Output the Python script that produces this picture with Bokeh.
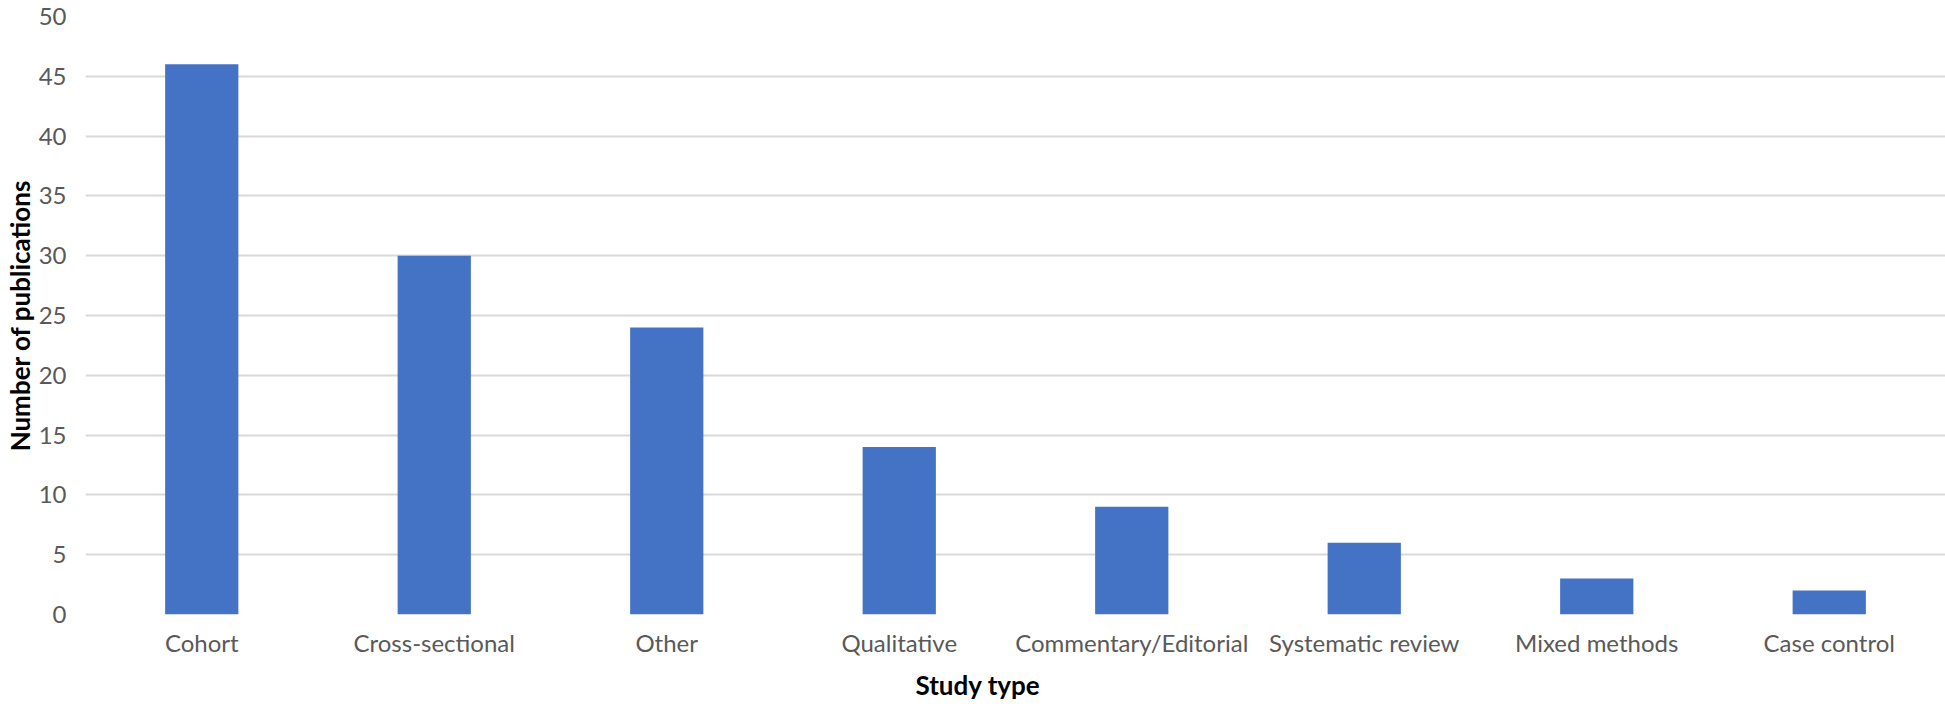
from bokeh.plotting import figure
from bokeh.embed import file_html
from bokeh.resources import INLINE
from bokeh.models import FixedTicker, ColumnDataSource, Title

categories = ["Cohort", "Cross-sectional", "Other", "Qualitative", "Commentary/Editorial",
              "Systematic review", "Mixed methods", "Case control"]
counts = [46, 30, 24, 14, 9, 6, 3, 2]
y_ticks = [0, 5, 10, 15, 20, 25, 30, 35, 40, 45, 50]

src = ColumnDataSource(dict(cat=categories, n=counts))

p = figure(x_range=categories, y_range=(0, 50), width=1945, height=710,
           output_backend="svg", toolbar_location=None,
           min_border_left=84, min_border_right=0, min_border_top=16, min_border_bottom=96)
p.outline_line_color = None
p.background_fill_color = "white"
p.border_fill_color = "white"

p.vbar(x="cat", top="n", width=0.315, source=src, color="#4472C4", line_color=None)

p.yaxis.ticker = FixedTicker(ticks=y_ticks)
p.ygrid.ticker = FixedTicker(ticks=y_ticks)
p.ygrid.grid_line_color = "#d9d9d9"
p.ygrid.grid_line_width = 2
p.xgrid.grid_line_color = None

for ax in (p.xaxis, p.yaxis):
    ax.axis_line_color = None
    ax.major_tick_line_color = None
    ax.minor_tick_line_color = None
    ax.major_tick_out = 0
    ax.major_tick_in = 0
    ax.major_label_text_font = "Lato"
    ax.major_label_text_font_size = "24px"
    ax.major_label_text_color = "#595959"
    ax.axis_label_text_font = "Lato"
    ax.axis_label_text_font_style = "bold"
    ax.axis_label_text_font_size = "26px"
    ax.axis_label_text_color = "black"

p.yaxis.major_label_standoff = 19
p.xaxis.major_label_standoff = 13
p.yaxis.axis_label = "Number of publications"
p.yaxis.axis_label_standoff = 0

xt = Title(text="Study type", align="left", offset=830, standoff=14,
           text_font="Lato", text_font_style="bold", text_font_size="26px",
           text_color="black")
p.add_layout(xt, "below")

open("out.html", "w").write(file_html(p, INLINE))
